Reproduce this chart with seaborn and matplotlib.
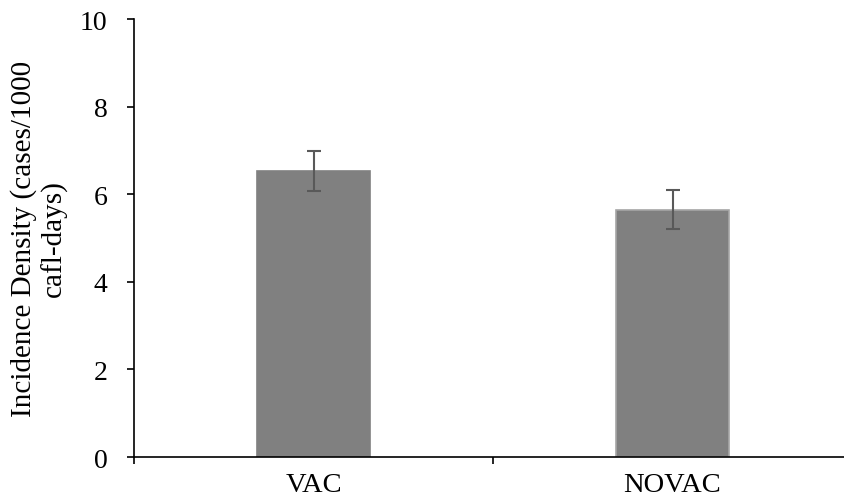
import pandas as pd
import seaborn as sns
import matplotlib.pyplot as plt
import numpy as np

grupos = ['VAC', 'NOVAC']
densidad = [6.53, 5.65]
error = [0.45, 0.44]
yticks = [0, 2, 4, 6, 8, 10]

sns.set_style('white')
plt.rcParams['font.family'] = ['Liberation Serif', 'DejaVu Serif']
plt.rcParams['text.color'] = 'black'

df = pd.DataFrame({'grupo': grupos, 'densidad': densidad})

fig = plt.figure(figsize=(8.45, 5.02), dpi=100)
# el eje x sigue un poco mas alla del borde derecho, como en el original
ax = fig.add_axes([0.1586, 0.0876, 0.8497, 0.8725])

sns.barplot(data=df, x='grupo', y='densidad', color='#808080', saturation=1,
            width=0.315, errorbar=None, ax=ax)
for i, bar in enumerate(ax.patches):
    bar.set_facecolor('#808080')
    bar.set_edgecolor('#808080' if i == 0 else '#a6a6a6')
    bar.set_linewidth(1.2)

ax.errorbar(x=np.arange(len(grupos)), y=densidad, yerr=error, fmt='none',
            ecolor='#595959', elinewidth=1.5, capsize=5, capthick=1.5)

ax.set_xlim(-0.5, 1.5)
ax.set_ylim(0, 10)
ax.set_yticks(yticks)
ax.set_yticklabels([str(t) for t in yticks], fontsize=20, color='black')
ax.set_xticks([0, 1])
ax.set_xticklabels(grupos, fontsize=20.5, color='black')
ax.set_xticks([-0.5, 0.5], minor=True)
ax.tick_params(axis='x', which='major', length=0, pad=11)
ax.tick_params(axis='x', which='minor', length=5, width=1.2, direction='out', bottom=True, color='black')
ax.tick_params(axis='y', length=5, width=1.2, direction='out', left=True, pad=14, color='black')
ax.set_xlabel('')
ax.set_ylabel('Incidence Density (cases/1000\ncafl-days)', fontsize=21, labelpad=9, color='black',
              linespacing=1.15)

sns.despine(ax=ax, top=True, right=True)
for s in ['left', 'bottom']:
    ax.spines[s].set_color('black')
    ax.spines[s].set_linewidth(1.2)

fig.savefig('out.png', dpi=100)
